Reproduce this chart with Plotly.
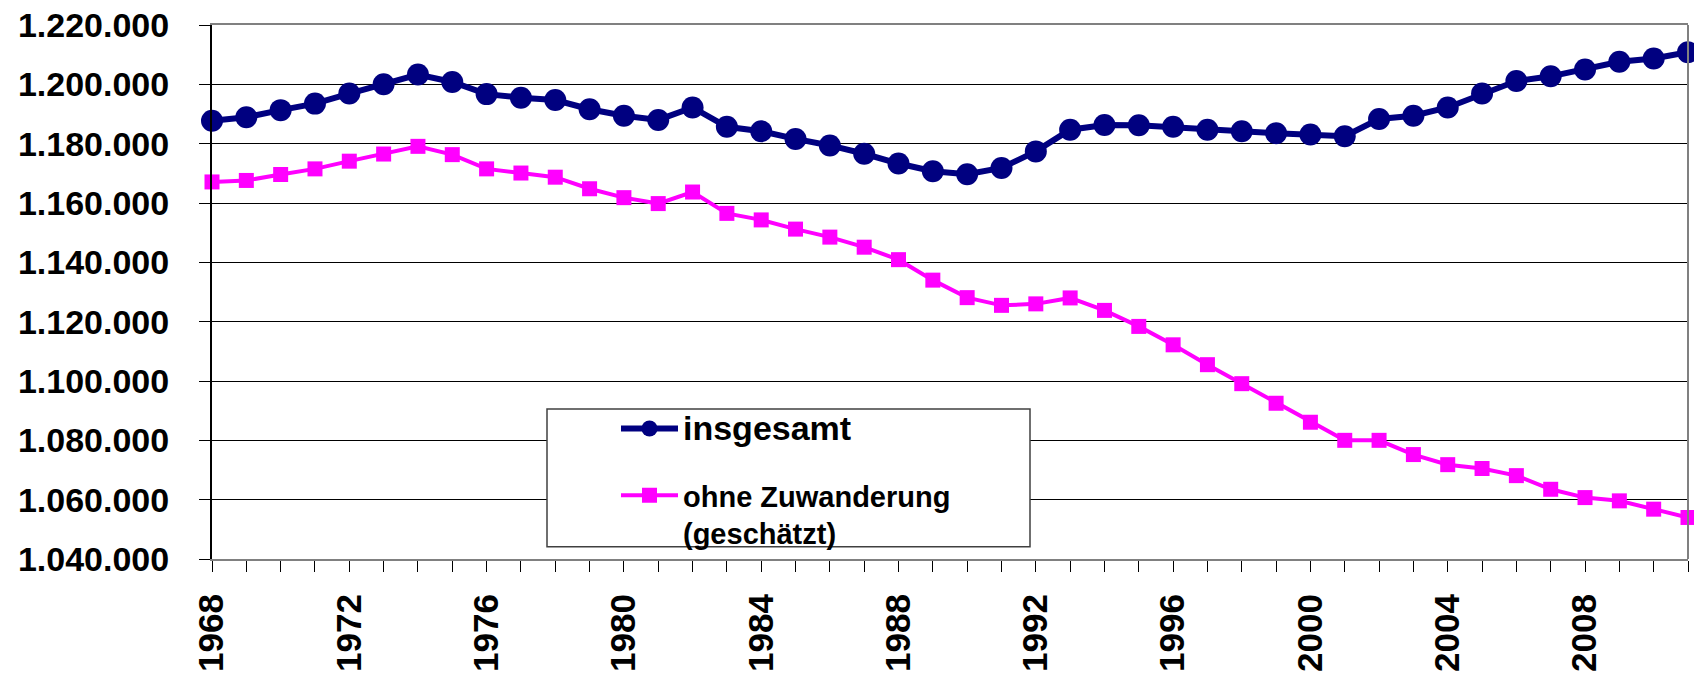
import plotly.graph_objects as go

years = [1968, 1969, 1970, 1971, 1972, 1973, 1974, 1975, 1976, 1977, 1978,
         1979, 1980, 1981, 1982, 1983, 1984, 1985, 1986, 1987, 1988, 1989,
         1990, 1991, 1992, 1993, 1994, 1995, 1996, 1997, 1998, 1999, 2000,
         2001, 2002, 2003, 2004, 2005, 2006, 2007, 2008, 2009, 2010, 2011]

insgesamt = [1187700, 1188900, 1191300, 1193500, 1196900, 1200000, 1203300,
             1200800, 1196700, 1195500, 1194700, 1191600, 1189400, 1188000,
             1192200, 1185700, 1184200, 1181600, 1179400, 1176600, 1173300,
             1170700, 1169700, 1171800, 1177400, 1184700, 1186300, 1186200,
             1185700, 1184700, 1184200, 1183500, 1183100, 1182500, 1188300,
             1189400, 1192200, 1196900, 1201100, 1202700, 1205000, 1207600,
             1208700, 1210800]

ohne_zuwanderung = [1167100, 1167600, 1169600, 1171500, 1174100, 1176500,
                    1179100, 1176300, 1171500, 1170100, 1168700, 1164800,
                    1161800, 1159800, 1163700, 1156500, 1154300, 1151200,
                    1148500, 1145100, 1140900, 1134000, 1128100, 1125500,
                    1126000, 1128000, 1123800, 1118400, 1112200, 1105500,
                    1099100, 1092500, 1086100, 1080000, 1080000, 1075200,
                    1071800, 1070500, 1068100, 1063500, 1060700, 1059600,
                    1056800, 1054000]

label_years = [1968, 1972, 1976, 1980, 1984, 1988, 1992, 1996, 2000, 2004, 2008]
y_ticks = [1040000, 1060000, 1080000, 1100000, 1120000, 1140000, 1160000,
           1180000, 1200000, 1220000]

name_total = "insgesamt"
name_est = "ohne Zuwanderung<br>(geschätzt)"

tick_text = [str(y) if y in label_years else "" for y in years]

FONT = "Liberation Sans, Arial, sans-serif"

fig = go.Figure()
fig.add_trace(go.Scatter(
    x=years, y=insgesamt, mode="lines+markers",
    name='<span style="font-size:34px">' + name_total + '</span>',
    legendgroup="a",
    line=dict(color="#000080", width=6),
    marker=dict(symbol="circle", size=22, color="#000080"),
    cliponaxis=False,
))
fig.add_trace(go.Scatter(
    x=years, y=ohne_zuwanderung, mode="lines+markers",
    name=name_est,
    legendgroup="b",
    line=dict(color="#FF00FF", width=4),
    marker=dict(symbol="square", size=15, color="#FF00FF"),
    cliponaxis=False,
))

fig.update_layout(
    width=1694, height=678, autosize=False,
    margin=dict(l=212, r=6, t=23, b=116),
    paper_bgcolor="white", plot_bgcolor="white",
    separators=",.",
    font=dict(family=FONT, color="black"),
    showlegend=True,
    legend=dict(
        x=(616 - 212) / 1476, y=(562.3 - 405) / 539,
        xanchor="left", yanchor="top",
        bgcolor="rgba(0,0,0,0)", borderwidth=0,
        font=dict(family=FONT, size=29, color="black", weight="bold"),
        tracegroupgap=26, valign="top",
        itemsizing="trace", itemwidth=57,
    ),
    xaxis=dict(
        range=[1968, 2011],
        tickmode="array", tickvals=years, ticktext=tick_text,
        tickangle=-90,
        ticks="outside", ticklen=11, tickwidth=1, tickcolor="black",
        ticklabelstandoff=8,
        tickfont=dict(family=FONT, size=35, color="black", weight="bold"),
        showgrid=False, zeroline=False,
        showline=True, linecolor="#808080", linewidth=2, mirror=True,
    ),
    yaxis=dict(
        range=[1040000, 1220000],
        tickmode="array", tickvals=y_ticks,
        tickformat=",d",
        ticks="outside", ticklen=11, tickwidth=1, tickcolor="black",
        ticklabelstandoff=23,
        tickfont=dict(family=FONT, size=34, color="black", weight="bold"),
        showgrid=True, gridcolor="black", gridwidth=1,
        zeroline=False,
        showline=True, linecolor="black", linewidth=2,
    ),
    shapes=[
        dict(type="line", xref="paper", yref="paper", x0=1, x1=1, y0=0, y1=1,
             line=dict(color="#808080", width=2)),
        dict(type="rect", xref="paper", yref="paper",
             x0=(547 - 212) / 1476, x1=(1030 - 212) / 1476,
             y0=(562.3 - 550) / 539, y1=(562.3 - 411) / 539,
             line=dict(color="#404040", width=1.5), fillcolor="white",
             layer="above"),
    ],
)

fig.write_html(
    "out.html",
    config={"displayModeBar": False},
    post_script="document.body.style.margin='0px';"
                "document.body.style.overflow='hidden';",
)
